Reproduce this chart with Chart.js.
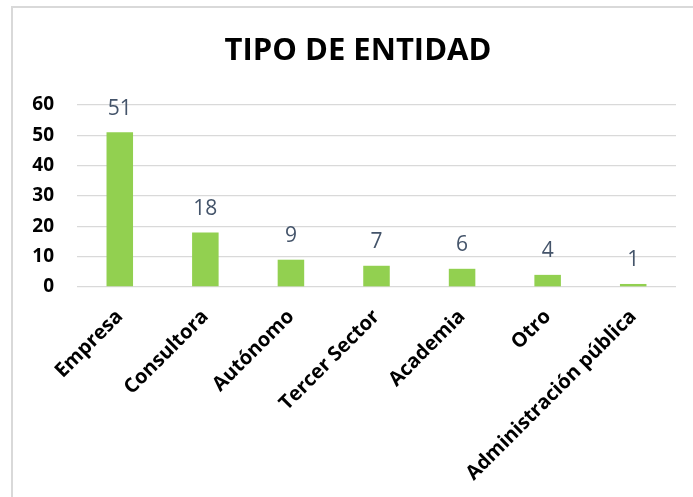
<!DOCTYPE html>
<html lang="es">
<head>
    <meta charset="UTF-8">
    <title>Tipo de entidad</title>
    <style>
body {
    margin: 0;
    padding: 0;
    background-color: #fff;
    overflow: hidden;
}

#frame {
    position: absolute;
    left: 11px;
    top: 6px;
    width: 700px;
    height: 520px;
    border-top: 2px solid #d9d9d9;
    border-left: 2px solid #d9d9d9;
}

#chart-wrap {
    position: absolute;
    left: 0;
    top: 0;
    width: 693px;
    height: 497px;
}
    </style>
</head>
<body>
    <div id="frame"></div>
    <div id="chart-wrap">
        <canvas id="entityChart" width="693" height="497"></canvas>
    </div>

    <script src="https://cdn.jsdelivr.net/npm/chart.js"></script>
    <script>
        // Data
        const categories = ['Empresa', 'Consultora', 'Autónomo', 'Tercer Sector', 'Academia', 'Otro', 'Administración pública'];
        const counts = [51, 18, 9, 7, 6, 4, 1];
        const yTicks = [0, 10, 20, 30, 40, 50, 60];
        const chartTitle = 'TIPO DE ENTIDAD';

        const fontFamily = "'Open Sans', 'DejaVu Sans', sans-serif";

        // Title drawn by hand so it sits centred inside the frame, not the canvas
        const frameTitle = {
            id: 'frameTitle',
            afterDraw(chart) {
                const ctx = chart.ctx;
                ctx.save();
                ctx.font = 'bold 31px ' + fontFamily;
                ctx.fillStyle = '#000';
                ctx.textAlign = 'center';
                ctx.textBaseline = 'middle';
                ctx.fillText(chartTitle, 358, 51);
                ctx.restore();
            }
        };

        // Value labels above each bar
        const valueLabels = {
            id: 'valueLabels',
            afterDatasetsDraw(chart) {
                const ctx = chart.ctx;
                const meta = chart.getDatasetMeta(0);
                ctx.save();
                ctx.font = '21px ' + fontFamily;
                ctx.fillStyle = '#44546A';
                ctx.textAlign = 'center';
                ctx.textBaseline = 'bottom';
                meta.data.forEach((bar, i) => {
                    ctx.fillText(String(counts[i]), bar.x, bar.y - 13);
                });
                ctx.restore();
            }
        };

        const ctx = document.getElementById('entityChart').getContext('2d');
        const chart = new Chart(ctx, {
            type: 'bar',
            data: {
                labels: categories,
                datasets: [{
                    data: counts,
                    backgroundColor: '#92D050',
                    borderWidth: 0,
                    barPercentage: 0.31,
                    categoryPercentage: 1
                }]
            },
            options: {
                responsive: false,
                animation: false,
                layout: {
                    padding: { left: 0, right: 17, top: 105, bottom: 0 }
                },
                plugins: {
                    legend: { display: false },
                    tooltip: { enabled: false },
                    title: { display: false }
                },
                scales: {
                    x: {
                        grid: { display: false },
                        border: { display: false },
                        ticks: {
                            color: '#000',
                            font: { family: fontFamily, size: 20, weight: 'bold' },
                            minRotation: 45,
                            maxRotation: 45,
                            autoSkip: false,
                            padding: 10
                        },
                        afterFit(scale) {
                            scale.height = 210;
                        }
                    },
                    y: {
                        min: 0,
                        max: 60,
                        afterBuildTicks(scale) {
                            scale.ticks = yTicks.map(v => ({ value: v }));
                        },
                        grid: {
                            color: '#d9d9d9',
                            lineWidth: 1.3,
                            drawTicks: false
                        },
                        border: { display: false },
                        ticks: {
                            color: '#000',
                            font: { family: fontFamily, size: 19, weight: 'bold' },
                            padding: 23
                        },
                        afterFit(scale) {
                            scale.width = 77;
                        }
                    }
                }
            },
            plugins: [valueLabels, frameTitle]
        });
    </script>
</body>
</html>
